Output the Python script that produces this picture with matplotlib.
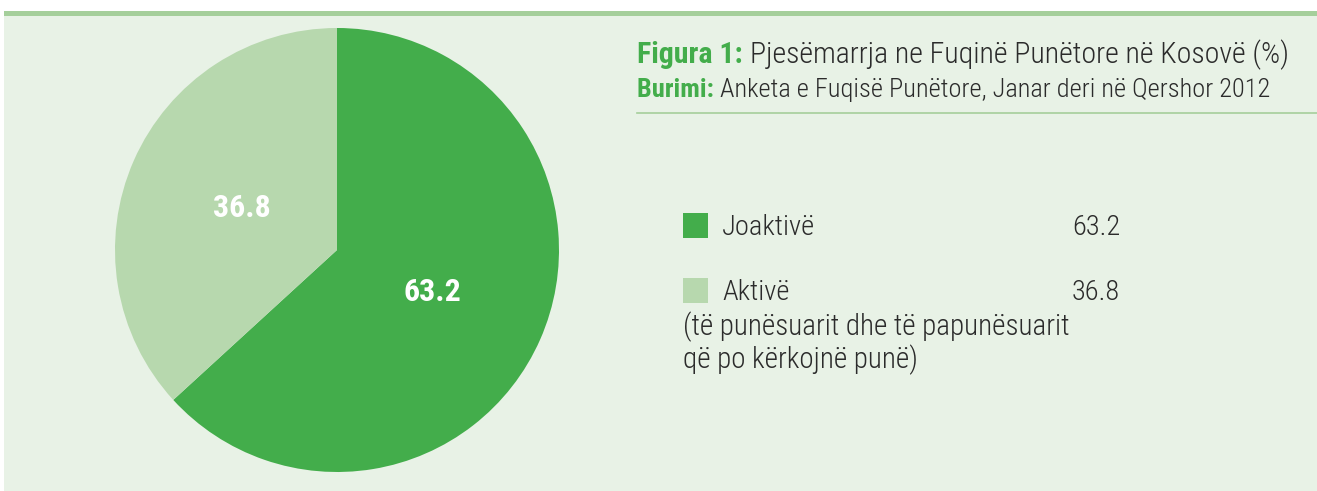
import matplotlib.pyplot as plt
from matplotlib.patches import Rectangle

W, H = 1317, 491

labels = ["Joaktivë", "Aktivë"]
values = [63.2, 36.8]
colors = ["#43ad4b", "#b7d8ae"]
note_lines = ["(të punësuarit dhe të papunësuarit", "që po kërkojnë punë)"]
title_head = "Figura 1:"
title_body = "Pjesëmarrja ne Fuqinë Punëtore në Kosovë (%)"
source_head = "Burimi:"
source_body = "Anketa e Fuqisë Punëtore, Janar deri në Qershor 2012"

plt.rcParams["font.family"] = ["Roboto Condensed", "Liberation Sans Narrow",
                               "DejaVu Sans Condensed", "Roboto", "DejaVu Sans"]
TEXT = "#2b2b2b"
GREEN = "#43ad4b"
LINE = "#a5cf9b"
LIGHT = "light"


def fx(x):
    return x / W


def fy(y):
    return 1 - y / H


fig = plt.figure(figsize=(W / 100, H / 100), dpi=100)
fig.patch.set_facecolor("white")

# panel and top bar
fig.add_artist(Rectangle((fx(4), 0), 1 - fx(4), fy(16), transform=fig.transFigure,
                         facecolor="#e8f2e6", edgecolor="none", zorder=-10))
fig.add_artist(Rectangle((fx(4), fy(16)), 1 - fx(4), fy(11) - fy(16), transform=fig.transFigure,
                         facecolor=LINE, edgecolor="none", zorder=-10))

# pie
cx, cy, r = 337, 250, 222
ax = fig.add_axes([fx(cx - r), fy(cy + r), 2 * r / W, 2 * r / H])
ax.set_facecolor("none")
ax.pie(values, colors=colors, startangle=90, counterclock=False,
       autopct="%.1f", pctdistance=0.47,
       textprops=dict(color="white", fontsize=23, fontweight="bold"),
       wedgeprops=dict(linewidth=0))
ax.set_xlim(-1, 1)
ax.set_ylim(-1, 1)
ax.axis("off")

# title block
t = fig.text(fx(637), fy(63), title_head + " ", color=GREEN, fontsize=21.5, fontweight="bold", va="baseline")
fig.canvas.draw()
bb = t.get_window_extent()
fig.text(bb.x1 / W, fy(63), title_body, color=TEXT, fontsize=21.5, fontweight=LIGHT, va="baseline")
s = fig.text(fx(637), fy(97), source_head + " ", color=GREEN, fontsize=19, fontweight="bold", va="baseline")
fig.canvas.draw()
bb = s.get_window_extent()
fig.text(bb.x1 / W, fy(97), source_body, color=TEXT, fontsize=19, fontweight=LIGHT, va="baseline")
fig.add_artist(plt.Line2D([fx(637), 1], [fy(113), fy(113)], color=LINE, linewidth=1.2))

# legend
rows = [235, 300]
for lab, val, col, yb in zip(labels, values, colors, rows):
    fig.add_artist(Rectangle((fx(683), fy(yb + 3)), 25 / W, 25 / H, transform=fig.transFigure,
                             facecolor=col, edgecolor="none"))
    fig.text(fx(722), fy(yb), lab, color=TEXT, fontsize=20.5, fontweight=LIGHT, va="baseline")
    fig.text(fx(1120), fy(yb), f"{val:.1f}", color=TEXT, fontsize=20.5, fontweight=LIGHT,
             va="baseline", ha="right")
for line, yb in zip(note_lines, [335, 368]):
    fig.text(fx(683), fy(yb), line, color=TEXT, fontsize=21, fontweight=LIGHT, va="baseline")

fig.savefig("out.png", dpi=100)
